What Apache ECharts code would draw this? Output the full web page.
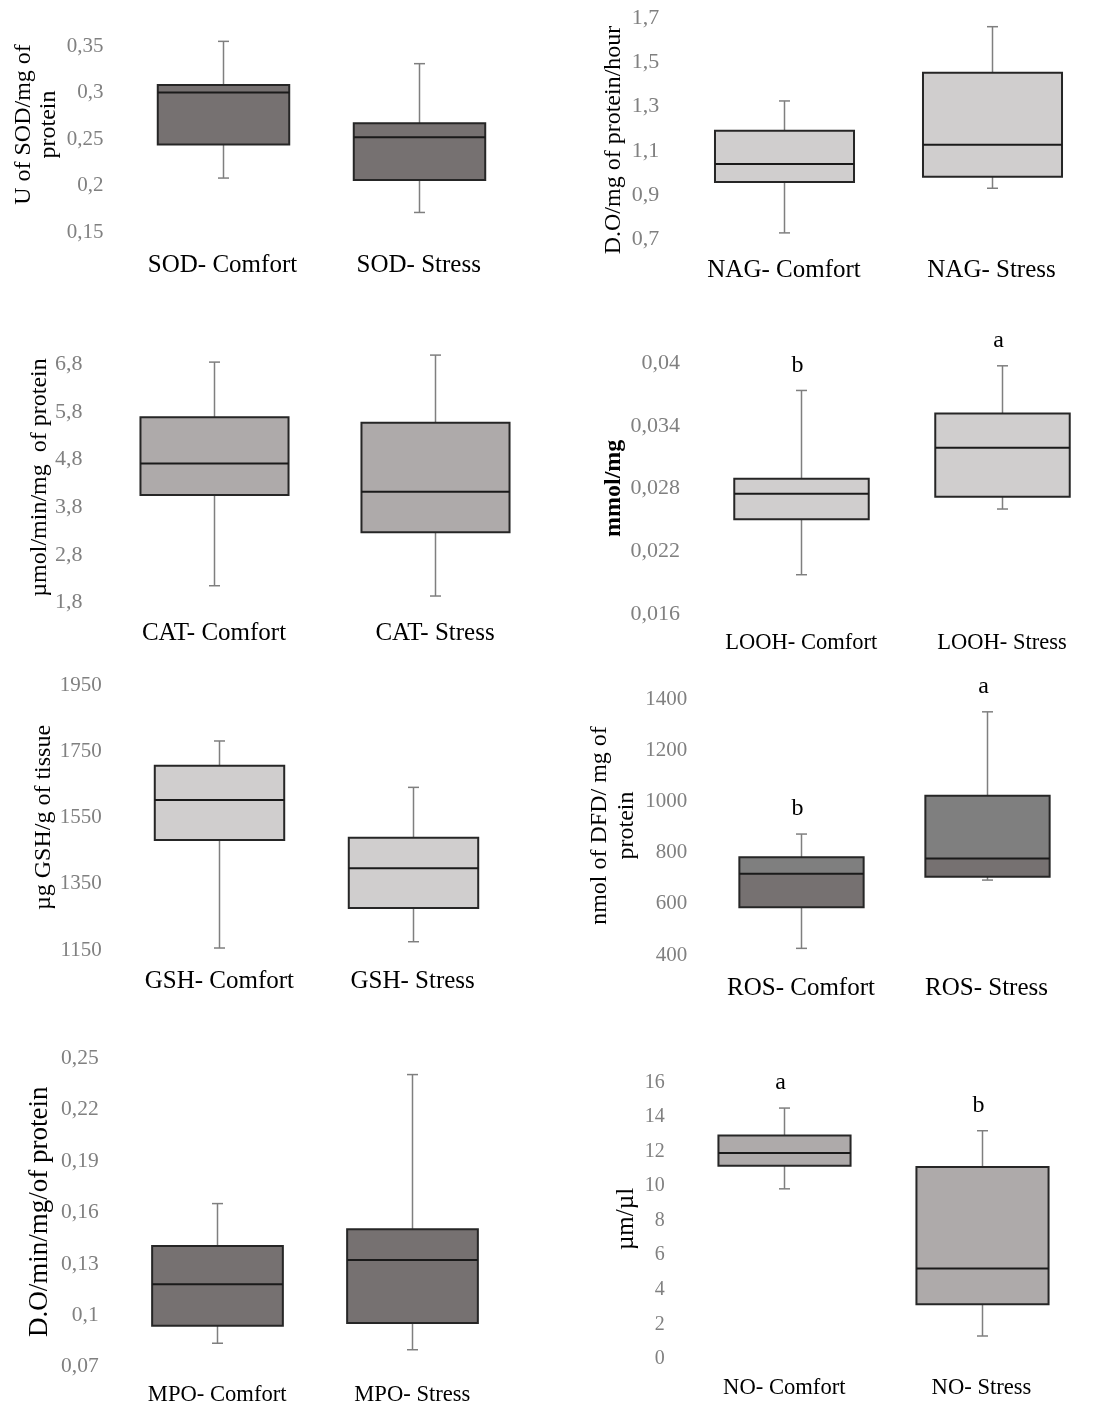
<!DOCTYPE html>
<html>
<head>
<meta charset="utf-8">
<script src="https://cdn.jsdelivr.net/npm/echarts@6/dist/echarts.min.js"></script>
<style>
html,body{margin:0;padding:0;background:#fff;}
#c{width:1104px;height:1408px;}
</style>
</head>
<body>
<div id="c"></div>
<script>
// ---- DATA (box values: [min, q1, median, q3, max]) ----
const sodCategories = ['SOD- Comfort', 'SOD- Stress'];
const sodBoxes = [[0.208, 0.244, 0.300, 0.308, 0.355], [0.171, 0.206, 0.252, 0.267, 0.331]];
const sodTicks = [0.15, 0.2, 0.25, 0.3, 0.35];

const nagCategories = ['NAG- Comfort', 'NAG- Stress'];
const nagBoxes = [[0.729, 0.959, 1.041, 1.191, 1.326], [0.931, 0.983, 1.128, 1.454, 1.662]];
const nagTicks = [0.7, 0.9, 1.1, 1.3, 1.5, 1.7];

const catCategories = ['CAT- Comfort', 'CAT- Stress'];
const catBoxes = [[2.156, 4.058, 4.722, 5.687, 6.846], [1.94, 3.276, 4.127, 5.574, 6.993]];
const catTicks = [1.8, 2.8, 3.8, 4.8, 5.8, 6.8];

const loohCategories = ['LOOH- Comfort', 'LOOH- Stress'];
const loohBoxes = [[0.01976, 0.02506, 0.02751, 0.02895, 0.0374], [0.02605, 0.02723, 0.03192, 0.0352, 0.03976]];
const loohTicks = [0.016, 0.022, 0.028, 0.034, 0.04];
const loohLetters = ['b', 'a'];

const gshCategories = ['GSH- Comfort', 'GSH- Stress'];
const gshBoxes = [[1156, 1482, 1603, 1706, 1781], [1175, 1277, 1397, 1489, 1641]];
const gshTicks = [1150, 1350, 1550, 1750, 1950];

const rosCategories = ['ROS- Comfort', 'ROS- Stress'];
const rosBoxes = [[426, 587, 718, 782, 873], [693, 706, 777, 1023, 1351]];
const rosTicks = [400, 600, 800, 1000, 1200, 1400];
const rosLetters = ['b', 'a'];

const mpoCategories = ['MPO- Comfort', 'MPO- Stress'];
const mpoBoxes = [[0.0837, 0.0939, 0.1181, 0.1405, 0.1652], [0.0799, 0.0955, 0.1323, 0.1502, 0.2405]];
const mpoTicks = [0.07, 0.1, 0.13, 0.16, 0.19, 0.22, 0.25];

const noCategories = ['NO- Comfort', 'NO- Stress'];
const noBoxes = [[9.84, 11.17, 11.91, 12.93, 14.51], [1.33, 3.16, 5.24, 11.1, 13.2]];
const noTicks = [0, 2, 4, 6, 8, 10, 12, 14, 16];
const noLetters = ['a', 'b'];

// ---- LAYOUT / STYLE ----
const SERIF = "'Liberation Serif', 'Times New Roman', serif";
const panels = [
  {cats: sodCategories, boxes: sodBoxes, ticks: sodTicks, grid: {left: 124.4, top: 46, width: 392.4, height: 186},
   upper: '#767171', lower: '#767171', xFont: 25, xMargin: 33, yFont: 21,
   title: 'U of SOD/mg of\nprotein', tx: 35.8, ty: 124.5, tFont: 24, tLine: 25},
  {cats: nagCategories, boxes: nagBoxes, ticks: nagTicks, grid: {left: 680.25, top: 18.3, width: 415, height: 221},
   upper: '#d0cece', lower: '#d0cece', xFont: 25, xMargin: 30.7, yFont: 22,
   title: 'D.O/mg of protein/hour', tx: 614, ty: 140, tFont: 24, tLine: 26},
  {cats: catCategories, boxes: catBoxes, ticks: catTicks, grid: {left: 103.5, top: 364.3, width: 442, height: 238.4},
   upper: '#aeaaaa', lower: '#aeaaaa', xFont: 25, xMargin: 30.6, yFont: 22,
   title: 'µmol/min/mg  of protein', tx: 39.3, ty: 477.5, tFont: 24, tLine: 26},
  {cats: loohCategories, boxes: loohBoxes, ticks: loohTicks, letters: loohLetters, grid: {left: 700.95, top: 363.3, width: 401.4, height: 250.7},
   upper: '#d0cece', lower: '#d0cece', xFont: 22.5, xMargin: 29.3, yFont: 22,
   title: 'mmol/mg', tx: 613.3, ty: 488.3, tFont: 24, tLine: 26, tBold: true},
  {cats: gshCategories, boxes: gshBoxes, ticks: gshTicks, grid: {left: 122.8, top: 685, width: 386.4, height: 265},
   upper: '#d0cece', lower: '#d0cece', xFont: 25, xMargin: 31.7, yFont: 21,
   title: 'µg GSH/g of tissue', tx: 43.3, ty: 817.5, tFont: 24, tLine: 26},
  {cats: rosCategories, boxes: rosBoxes, ticks: rosTicks, letters: rosLetters, grid: {left: 708.25, top: 699.3, width: 371, height: 255.7},
   upper: '#7f7f7f', lower: '#767171', xFont: 25, xMargin: 33.3, yFont: 21,
   title: 'nmol of DFD/ mg of\nprotein', tx: 613.3, ty: 825.5, tFont: 24, tLine: 26.7},
  {cats: mpoCategories, boxes: mpoBoxes, ticks: mpoTicks, grid: {left: 119.65, top: 1058.3, width: 390.2, height: 308.4},
   upper: '#767171', lower: '#767171', xFont: 22.6, xMargin: 28.3, yFont: 21.5,
   title: 'D.O/min/mg/of protein', tx: 40, ty: 1211.7, tFont: 27, tLine: 30},
  {cats: noCategories, boxes: noBoxes, ticks: noTicks, letters: noLetters, grid: {left: 685.7, top: 1082.3, width: 394.4, height: 276.7},
   upper: '#aeaaaa', lower: '#aeaaaa', xFont: 22.6, xMargin: 28.7, yFont: 20,
   title: 'µm/µl', tx: 626.7, ty: 1219, tFont: 25, tLine: 26}
];

function fmt(v) {
  return String(Number(v.toFixed(5))).replace('.', ',');
}

const grid = [], xAxis = [], yAxis = [], series = [], graphic = [];
panels.forEach((p, i) => {
  grid.push(Object.assign({containLabel: false}, p.grid));
  xAxis.push({
    type: 'category', gridIndex: i, data: p.cats,
    axisLine: {show: false}, axisTick: {show: false}, splitLine: {show: false},
    axisLabel: {color: '#000', fontFamily: SERIF, fontSize: p.xFont, margin: p.xMargin, verticalAlign: 'middle', interval: 0}
  });
  yAxis.push({
    type: 'value', gridIndex: i, min: p.ticks[0], max: p.ticks[p.ticks.length - 1],
    axisLine: {show: false}, axisTick: {show: false}, splitLine: {show: false},
    axisLabel: {color: '#808080', fontFamily: SERIF, fontSize: p.yFont, margin: 21,
      customValues: p.ticks, formatter: fmt}
  });
  const letters = p.letters || null;
  series.push({
    type: 'custom', xAxisIndex: i, yAxisIndex: i, silent: true,
    data: p.boxes.map((b, k) => [k].concat(b)),
    encode: {x: 0, y: [1, 2, 3, 4, 5]},
    renderItem: function (params, api) {
      const k = api.value(0);
      const vmin = api.value(1), q1 = api.value(2), med = api.value(3), q3 = api.value(4), vmax = api.value(5);
      const pMin = api.coord([k, vmin]);
      const pQ1 = api.coord([k, q1]);
      const pMed = api.coord([k, med]);
      const pQ3 = api.coord([k, q3]);
      const pMax = api.coord([k, vmax]);
      const band = api.size([1, 0])[0];
      const bw = band * 0.67;
      const cx = Math.round(pMax[0]) + 0.5;
      const x0 = cx - bw / 2;
      const cap = 5.5;
      const wStyle = {stroke: '#7f7f7f', lineWidth: 1.5};
      const children = [
        {type: 'line', shape: {x1: cx, y1: pMax[1], x2: cx, y2: pQ3[1]}, style: wStyle},
        {type: 'line', shape: {x1: cx, y1: pQ1[1], x2: cx, y2: pMin[1]}, style: wStyle},
        {type: 'line', shape: {x1: cx - cap, y1: pMax[1], x2: cx + cap, y2: pMax[1]}, style: wStyle},
        {type: 'line', shape: {x1: cx - cap, y1: pMin[1], x2: cx + cap, y2: pMin[1]}, style: wStyle},
        {type: 'rect', shape: {x: x0, y: pQ3[1], width: bw, height: pMed[1] - pQ3[1]}, style: {fill: p.upper}},
        {type: 'rect', shape: {x: x0, y: pMed[1], width: bw, height: pQ1[1] - pMed[1]}, style: {fill: p.lower}},
        {type: 'rect', shape: {x: x0, y: pQ3[1], width: bw, height: pQ1[1] - pQ3[1]}, style: {fill: null, stroke: '#262626', lineWidth: 2}},
        {type: 'line', shape: {x1: x0, y1: pMed[1], x2: x0 + bw, y2: pMed[1]}, style: {stroke: '#1a1a1a', lineWidth: 2}}
      ];
      if (letters) {
        children.push({type: 'text', x: cx - 4, y: pMax[1] - 25,
          style: {text: letters[k], fill: '#000', font: '24px ' + SERIF, align: 'center', verticalAlign: 'middle'}});
      }
      return {type: 'group', children: children};
    }
  });
  graphic.push({
    type: 'text', x: p.tx, y: p.ty, rotation: Math.PI / 2,
    style: {text: p.title, fill: '#000', font: (p.tBold ? 'bold ' : '') + p.tFont + 'px ' + SERIF,
      lineHeight: p.tLine, align: 'center', verticalAlign: 'middle'}
  });
});

const chart = echarts.init(document.getElementById('c'), null, {renderer: 'canvas'});
chart.setOption({
  animation: false,
  backgroundColor: '#fff',
  grid: grid, xAxis: xAxis, yAxis: yAxis, series: series, graphic: graphic
});
</script>
</body>
</html>
